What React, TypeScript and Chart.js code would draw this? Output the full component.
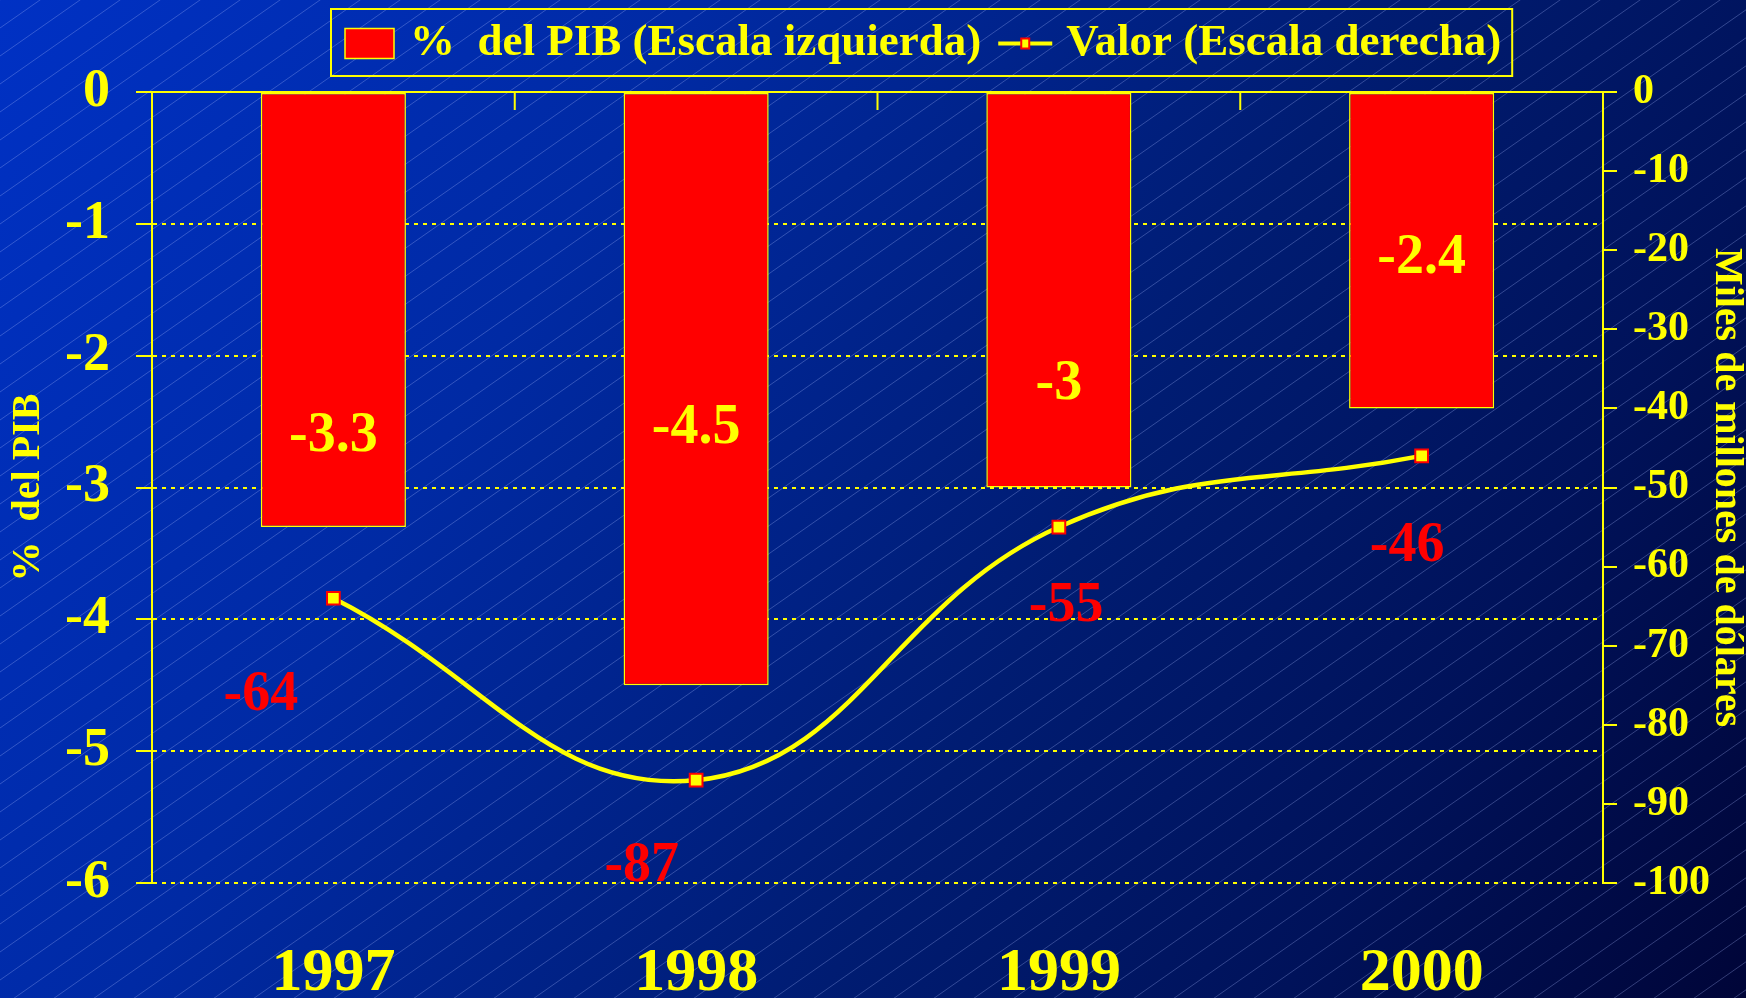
import React, { useEffect, useRef } from 'react';
import { Chart, registerables } from 'chart.js';

Chart.register(...registerables);

// ---- data ----
const years = ['1997', '1998', '1999', '2000'];
const pibPercent = [-3.3, -4.5, -3, -2.4];
const valueBillions = [-64, -87, -55, -46];

// label anchors (in axis units) as placed on the original slide
const pibLabelAnchor = [-2.61, -2.55, -2.22, -1.26];
const valueLabelAnchor = [-76.3, -97.9, -65.1, -57.5];
const valueLabelShift = [-0.2, -0.15, 0.02, -0.04];

const leftTitle = '%  del PIB';
const rightTitle = 'Miles de millones de dólares';
const legendBarText = '%  del PIB (Escala izquierda)';
const legendLineText = 'Valor (Escala derecha)';

const YELLOW = '#ffff00';
const RED = '#ff0000';
const FAMILY = '"Liberation Serif", "Times New Roman", serif';

const W = 1746;
const H = 998;

const backgroundPlugin = {
  id: 'slideBackground',
  beforeDraw(chart: any) {
    const { ctx, width, height } = chart;
    ctx.save();
    const g = ctx.createLinearGradient(0, 0, width, height);
    g.addColorStop(0, '#0031c4');
    g.addColorStop(0.3, '#002aa4');
    g.addColorStop(0.6, '#001c72');
    g.addColorStop(0.8, '#00125a');
    g.addColorStop(1, '#000538');
    ctx.fillStyle = g;
    ctx.fillRect(0, 0, width, height);
    ctx.strokeStyle = 'rgba(170,190,255,0.3)';
    ctx.lineWidth = 1;
    const m = 0.7;
    const step = 28;
    ctx.beginPath();
    for (let c = 0; c < height + m * width; c += step) {
      ctx.moveTo(0, c);
      ctx.lineTo(width, c - m * width);
    }
    ctx.stroke();
    ctx.restore();
  },
};

const axisPlugin = {
  id: 'zeroAxis',
  afterDatasetsDraw(chart: any) {
    const { ctx, chartArea } = chart;
    const ys = chart.scales.y;
    const xs = chart.scales.x;
    const y0 = ys.getPixelForValue(0);
    ctx.save();
    ctx.strokeStyle = YELLOW;
    ctx.lineWidth = 2;
    ctx.setLineDash([]);
    ctx.beginPath();
    ctx.moveTo(chartArea.left - 16, y0);
    ctx.lineTo(chartArea.right + 14, y0);
    for (let i = 1; i < years.length; i++) {
      const xb = (xs.getPixelForValue(i - 1) + xs.getPixelForValue(i)) / 2;
      ctx.moveTo(xb, y0);
      ctx.lineTo(xb, y0 + 18);
    }
    ctx.stroke();

    // data labels
    ctx.font = `bold 56px ${FAMILY}`;
    ctx.textAlign = 'center';
    ctx.textBaseline = 'middle';
    const catW = xs.getPixelForValue(1) - xs.getPixelForValue(0);
    pibPercent.forEach((v, i) => {
      ctx.fillStyle = YELLOW;
      ctx.fillText(String(v), xs.getPixelForValue(i), ys.getPixelForValue(pibLabelAnchor[i]));
    });
    const y1 = chart.scales.y1;
    valueBillions.forEach((v, i) => {
      ctx.fillStyle = RED;
      ctx.fillText(
        String(v),
        xs.getPixelForValue(i) + valueLabelShift[i] * catW,
        y1.getPixelForValue(valueLabelAnchor[i])
      );
    });
    ctx.restore();
  },
};

const legendPlugin = {
  id: 'boxedLegend',
  afterDraw(chart: any) {
    const { ctx } = chart;
    ctx.save();
    ctx.font = `bold 45px ${FAMILY}`;
    ctx.textBaseline = 'middle';
    ctx.textAlign = 'left';
    const boxLeft = 331;
    const boxTop = 9;
    const boxH = 67;
    const cy = boxTop + boxH / 2 + 1;
    const swX = boxLeft + 14;
    const swW = 49;
    const swH = 30;
    // swatch
    ctx.fillStyle = RED;
    ctx.fillRect(swX, cy - swH / 2, swW, swH);
    ctx.strokeStyle = YELLOW;
    ctx.lineWidth = 1.5;
    ctx.strokeRect(swX, cy - swH / 2, swW, swH);
    // text 1
    const t1x = swX + swW + 16;
    ctx.fillStyle = YELLOW;
    ctx.fillText(legendBarText, t1x, cy);
    const w1 = ctx.measureText(legendBarText).width;
    // line symbol
    const lx = t1x + w1 + 17;
    const lw = 54;
    ctx.strokeStyle = YELLOW;
    ctx.lineWidth = 4;
    ctx.beginPath();
    ctx.moveTo(lx, cy);
    ctx.lineTo(lx + lw, cy);
    ctx.stroke();
    ctx.fillStyle = YELLOW;
    ctx.fillRect(lx + lw / 2 - 4, cy - 5, 8, 10);
    ctx.strokeStyle = RED;
    ctx.lineWidth = 2;
    ctx.strokeRect(lx + lw / 2 - 4, cy - 5, 8, 10);
    // text 2
    const t2x = lx + lw + 14;
    ctx.fillStyle = YELLOW;
    ctx.fillText(legendLineText, t2x, cy);
    const w2 = ctx.measureText(legendLineText).width;
    // border
    ctx.strokeStyle = YELLOW;
    ctx.lineWidth = 2;
    ctx.strokeRect(boxLeft, boxTop, t2x + w2 + 11 - boxLeft, boxH);
    ctx.restore();
  },
};

export default function App() {
  const ref = useRef<HTMLCanvasElement | null>(null);

  useEffect(() => {
    if (!ref.current) return;
    const chart = new Chart(ref.current, {
      type: 'bar',
      data: {
        labels: years,
        datasets: [
          {
            type: 'line',
            label: legendLineText,
            data: valueBillions,
            yAxisID: 'y1',
            borderColor: YELLOW,
            borderWidth: 4.5,
            tension: 0.42,
            pointStyle: 'rect',
            pointRadius: 9,
            pointBackgroundColor: YELLOW,
            pointBorderColor: RED,
            pointBorderWidth: 2,
            order: 0,
          } as any,
          {
            type: 'bar',
            label: legendBarText,
            data: pibPercent,
            yAxisID: 'y',
            backgroundColor: RED,
            borderColor: YELLOW,
            borderWidth: 1.5,
            borderSkipped: false,
            barPercentage: 0.4,
            categoryPercentage: 1,
            order: 1,
          } as any,
        ],
      },
      options: {
        responsive: false,
        animation: false,
        devicePixelRatio: 1,
        layout: { padding: { top: 92, left: 0, right: 0, bottom: 0 } },
        plugins: {
          legend: { display: false },
          tooltip: { enabled: false },
        },
        scales: {
          x: {
            type: 'category',
            offset: true,
            grid: { display: false, drawTicks: false },
            border: { display: false },
            ticks: {
              color: YELLOW,
              font: { family: FAMILY, size: 62, weight: 'bold' },
              padding: 54,
              maxRotation: 0,
              autoSkip: false,
            },
            afterFit: (s: any) => {
              s.height = 115;
            },
          },
          y: {
            position: 'left',
            min: -6,
            max: 0,
            ticks: {
              stepSize: 1,
              color: YELLOW,
              font: { family: FAMILY, size: 54, weight: 'bold' },
              padding: 26,
              callback: (v: any) => String(v),
            },
            grid: {
              color: YELLOW,
              lineWidth: 2,
              tickLength: 16,
              tickColor: YELLOW,
              tickBorderDash: [],
              borderDash: [4, 5],
            } as any,
            border: { display: true, color: YELLOW, width: 2, dash: [4, 5] },
            title: {
              display: true,
              text: leftTitle,
              color: YELLOW,
              font: { family: FAMILY, size: 40, weight: 'bold', lineHeight: 1 },
              padding: { top: 9, bottom: 0 },
            },
            afterFit: (s: any) => {
              s.width = 152;
            },
          },
          y1: {
            position: 'right',
            min: -100,
            max: 0,
            ticks: {
              stepSize: 10,
              color: YELLOW,
              font: { family: FAMILY, size: 42, weight: 'bold' },
              padding: 16,
              callback: (v: any) => String(v),
            },
            grid: {
              drawOnChartArea: false,
              color: YELLOW,
              lineWidth: 2,
              tickLength: 14,
              tickColor: YELLOW,
            },
            border: { display: true, color: YELLOW, width: 2 },
            title: {
              display: true,
              text: rightTitle,
              color: YELLOW,
              font: { family: FAMILY, size: 40, weight: 'bold', lineHeight: 1 },
              padding: { top: 0, bottom: 0 },
            },
            afterFit: (s: any) => {
              s.width = 143;
            },
          },
        },
      } as any,
      plugins: [backgroundPlugin, axisPlugin, legendPlugin],
    });
    return () => chart.destroy();
  }, []);

  return (
    <div style={{ position: 'fixed', left: 0, top: 0, width: W, height: H }}>
      <canvas ref={ref} width={W} height={H} style={{ display: 'block', width: W, height: H }} />
    </div>
  );
}
